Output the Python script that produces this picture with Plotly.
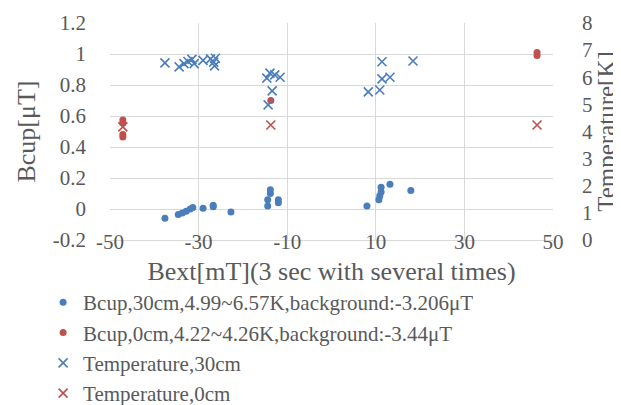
import plotly.graph_objects as go

# ---- data ----
bcup30_x = [-37.6, -34.6, -33.7, -32.8, -31.9, -31.3, -29.0, -26.7, -26.7, -22.7,
            -14.4, -14.4, -13.8, -13.8, -12.0, -12.0, 8.0, 10.7, 10.9, 11.2, 11.2, 13.2, 17.9]
bcup30_y = [-0.06, -0.035, -0.025, -0.015, 0.0, 0.01, 0.005, 0.015, 0.025, -0.02,
            0.02, 0.06, 0.10, 0.125, 0.06, 0.04, 0.02, 0.06, 0.085, 0.11, 0.14, 0.16, 0.12]

bcup0_x = [-47.1, -47.1, -47.1, -47.1, -13.7, 46.4, 46.4]
bcup0_y = [0.575, 0.555, 0.48, 0.465, 0.70, 1.01, 0.99]

temp30_x = [-37.6, -34.4, -33.3, -32.4, -31.5, -31.0, -29.0, -27.3, -26.6, -26.4, -26.2,
            -14.6, -13.9, -12.8, -11.6, -13.4, -14.3, 11.4, 18.4, 11.4, 13.2, 8.3, 10.9]
temp30_y = [6.53, 6.38, 6.50, 6.58, 6.66, 6.50, 6.62, 6.68, 6.56, 6.42, 6.70,
            5.97, 6.15, 6.09, 6.0, 5.50, 4.98, 6.57, 6.60, 5.94, 6.0, 5.46, 5.53]

temp0_x = [-47.1, -13.7, 46.4]
temp0_y = [4.17, 4.24, 4.24]

x_ticks = [-50, -30, -10, 10, 30, 50]
x_tick_text = ["-50", "-30", "-10", "10", "30", "50"]
y_ticks = [-0.2, 0, 0.2, 0.4, 0.6, 0.8, 1.0, 1.2]
y_tick_text = ["-0.2", "0", "0.2", "0.4", "0.6", "0.8", "1", "1.2"]
y2_ticks = [0, 1, 2, 3, 4, 5, 6, 7, 8]

BLUE = "#4a7ebb"
RED = "#c0504d"
FONT = "Liberation Serif, Times New Roman, serif"
TXT = "#595959"
GRID = "#d9d9d9"

fig = go.Figure()
fig.add_trace(go.Scatter(x=bcup30_x, y=bcup30_y, mode="markers",
                         name="Bcup,30cm,4.99~6.57K,background:-3.206μT",
                         marker=dict(symbol="circle", size=7, color=BLUE)))
fig.add_trace(go.Scatter(x=bcup0_x, y=bcup0_y, mode="markers",
                         name="Bcup,0cm,4.22~4.26K,background:-3.44μT",
                         marker=dict(symbol="circle", size=7, color=RED)))
fig.add_trace(go.Scatter(x=temp30_x, y=temp30_y, mode="markers", yaxis="y2",
                         name="Temperature,30cm",
                         marker=dict(symbol="x-thin", size=9, color=BLUE,
                                     line=dict(width=1.6, color=BLUE))))
fig.add_trace(go.Scatter(x=temp0_x, y=temp0_y, mode="markers", yaxis="y2",
                         name="Temperature,0cm",
                         marker=dict(symbol="x-thin", size=9, color=RED,
                                     line=dict(width=1.6, color=RED))))

# page body has an 8px margin, so the figure is 8px smaller and margins shifted
fig.update_layout(
    width=613, height=397,
    margin=dict(l=102, r=68, t=15, b=165, autoexpand=False),
    paper_bgcolor="white", plot_bgcolor="white",
    font=dict(family=FONT, size=21, color=TXT),
    showlegend=True,
    legend=dict(x=-0.151, y=-0.194, xanchor="left", yanchor="top",
                font=dict(family=FONT, size=21, color=TXT),
                itemwidth=30, tracegroupgap=0, bgcolor="rgba(0,0,0,0)"),
    xaxis=dict(range=[-50, 50], tickvals=x_ticks, ticktext=x_tick_text,
               showgrid=True, gridcolor=GRID, gridwidth=1, automargin=False,
               zeroline=False, showline=True, linecolor=GRID,
               ticks="", ticklabelstandoff=-17,
               title=dict(text="Bext[mT](3 sec with several times)", standoff=8,
                          font=dict(size=26, color=TXT))),
    yaxis=dict(range=[-0.2, 1.2], tickvals=y_ticks, ticktext=y_tick_text,
               showgrid=True, gridcolor=GRID, gridwidth=1, zeroline=False,
               showline=False, ticks="", ticklabelstandoff=23, automargin=True,
               title=dict(text="Bcup[μT]", standoff=9, font=dict(size=26, color=TXT))),
    yaxis2=dict(range=[0, 8], tickvals=y2_ticks, overlaying="y", side="right",
                showgrid=False, zeroline=False, showline=False, ticks="",
                ticklabelstandoff=28, automargin=True,
                title=dict(text="Temperature[K]", standoff=1, font=dict(size=25, color=TXT))),
)

fig.write_html("out.html")
